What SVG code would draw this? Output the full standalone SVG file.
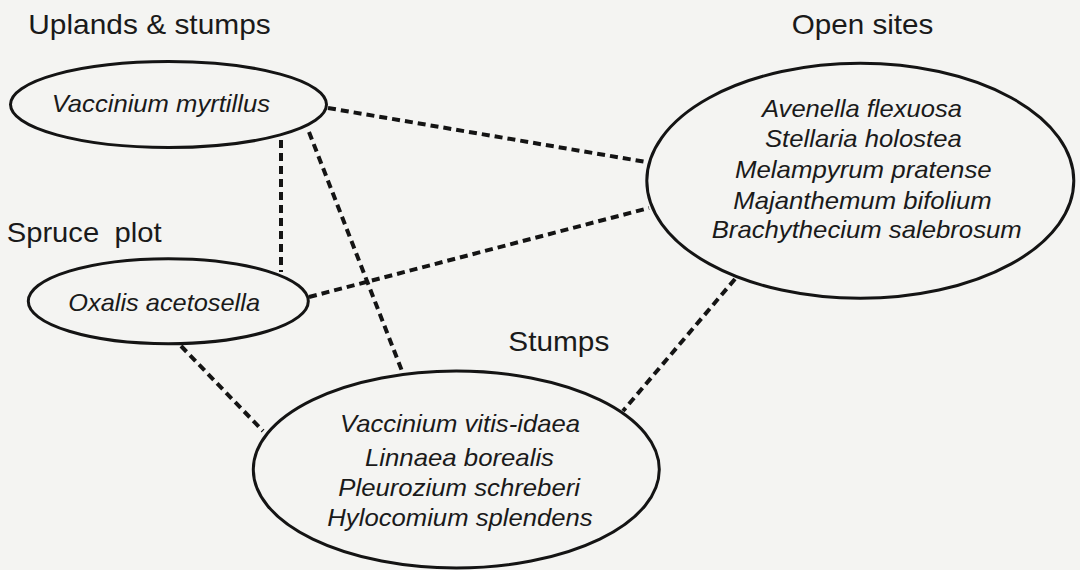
<svg xmlns="http://www.w3.org/2000/svg" width="1080" height="570" viewBox="0 0 1080 570">
<style>
.bg{fill:#f4f4f2}
.node{fill:none;stroke:#141414;stroke-width:3}
.conn{fill:none;stroke:#141414;stroke-width:4;stroke-dasharray:8 5}
.title{font-family:"Liberation Sans",Arial,sans-serif;font-size:28px;fill:#1a1a1a}
.sp{font-family:"Liberation Sans",Arial,sans-serif;font-size:24px;font-style:italic;fill:#1a1a1a}
</style>
<rect class="bg" x="0" y="0" width="1080" height="570"/>
<g id="connectors">
<line class="conn" x1="328" y1="108" x2="646" y2="162"/>
<line class="conn" x1="309" y1="297" x2="649" y2="208"/>
<line class="conn" x1="281" y1="140" x2="281" y2="272"/>
<line class="conn" x1="309" y1="132" x2="402" y2="371"/>
<line class="conn" x1="181" y1="346" x2="263" y2="431"/>
<line class="conn" x1="735" y1="279" x2="623" y2="411"/>
</g>
<g id="labels">
<text class="title" x="28.3" y="33.5" textLength="242.4" lengthAdjust="spacingAndGlyphs">Uplands &amp; stumps</text>
<text class="title" x="791.7" y="33.5" textLength="141.7" lengthAdjust="spacingAndGlyphs">Open sites</text>
<text class="title" x="6.7" y="241.7" textLength="155" lengthAdjust="spacingAndGlyphs" word-spacing="7">Spruce plot</text>
<text class="title" x="508.3" y="350.7" textLength="101" lengthAdjust="spacingAndGlyphs">Stumps</text>
</g>
<g id="node-uplands">
<ellipse class="node" cx="168.5" cy="104.5" rx="158" ry="43"/>
<text class="sp" x="51.7" y="111.5" textLength="218.3" lengthAdjust="spacingAndGlyphs">Vaccinium myrtillus</text>
</g>
<g id="node-spruce">
<ellipse class="node" cx="168.3" cy="301.2" rx="140" ry="42.5"/>
<text class="sp" x="68.3" y="310.5" textLength="191.7" lengthAdjust="spacingAndGlyphs">Oxalis acetosella</text>
</g>
<g id="node-open">
<ellipse class="node" cx="860.3" cy="180.8" rx="213.5" ry="117.5"/>
<text class="sp" x="762" y="116.5" textLength="200" lengthAdjust="spacingAndGlyphs">Avenella flexuosa</text>
<text class="sp" x="765" y="147" textLength="196.7" lengthAdjust="spacingAndGlyphs">Stellaria holostea</text>
<text class="sp" x="735" y="177.5" textLength="256.7" lengthAdjust="spacingAndGlyphs">Melampyrum pratense</text>
<text class="sp" x="733.3" y="208.5" textLength="258.4" lengthAdjust="spacingAndGlyphs">Majanthemum bifolium</text>
<text class="sp" x="711.7" y="238" textLength="310" lengthAdjust="spacingAndGlyphs">Brachythecium salebrosum</text>
</g>
<g id="node-stumps">
<ellipse class="node" cx="456.3" cy="469.5" rx="203" ry="98.5"/>
<text class="sp" x="340" y="432" textLength="240" lengthAdjust="spacingAndGlyphs">Vaccinium vitis-idaea</text>
<text class="sp" x="365" y="465.5" textLength="189" lengthAdjust="spacingAndGlyphs">Linnaea borealis</text>
<text class="sp" x="338.3" y="496" textLength="241.7" lengthAdjust="spacingAndGlyphs">Pleurozium schreberi</text>
<text class="sp" x="327.3" y="525.5" textLength="265.4" lengthAdjust="spacingAndGlyphs">Hylocomium splendens</text>
</g>
</svg>
